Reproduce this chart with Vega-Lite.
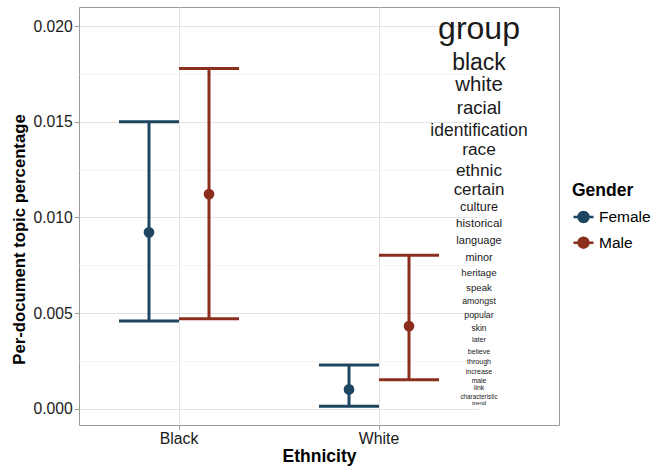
{
  "$schema": "https://vega.github.io/schema/vega-lite/v6.json",
  "width": 480,
  "height": 418,
  "autosize": "none",
  "padding": {"left": 79, "top": 7, "right": 105, "bottom": 41},
  "config": {
    "view": {"stroke": "#9a9a9a", "strokeWidth": 1},
    "font": "Liberation Sans"
  },
  "datasets": {
    "summary": [
      {"ethnicity": "Black", "gender": "Female", "mean": 0.00922, "lower": 0.00458, "upper": 0.0150},
      {"ethnicity": "Black", "gender": "Male", "mean": 0.01122, "lower": 0.00470, "upper": 0.01779},
      {"ethnicity": "White", "gender": "Female", "mean": 0.00101, "lower": 0.000125, "upper": 0.00228},
      {"ethnicity": "White", "gender": "Male", "mean": 0.00432, "lower": 0.00152, "upper": 0.00802}
    ],
    "words": [
      {"word": "group", "y": 0.01934, "weight": 32},
      {"word": "black", "y": 0.01770, "weight": 23},
      {"word": "white", "y": 0.01659, "weight": 20.4},
      {"word": "racial", "y": 0.01540, "weight": 18.6},
      {"word": "identification", "y": 0.01424, "weight": 17.5},
      {"word": "race", "y": 0.01327, "weight": 17.3},
      {"word": "ethnic", "y": 0.01215, "weight": 17.3},
      {"word": "certain", "y": 0.01118, "weight": 16.9},
      {"word": "culture", "y": 0.01033, "weight": 12.6},
      {"word": "historical", "y": 0.00948, "weight": 11.7},
      {"word": "language", "y": 0.00859, "weight": 11.0},
      {"word": "minor", "y": 0.00772, "weight": 10.9},
      {"word": "heritage", "y": 0.00694, "weight": 9.8},
      {"word": "speak", "y": 0.00617, "weight": 9.7},
      {"word": "amongst", "y": 0.00546, "weight": 8.8},
      {"word": "popular", "y": 0.00472, "weight": 8.8},
      {"word": "skin", "y": 0.00408, "weight": 8.4},
      {"word": "later", "y": 0.00347, "weight": 7.2},
      {"word": "believe", "y": 0.00287, "weight": 7.1},
      {"word": "through", "y": 0.00235, "weight": 7.1},
      {"word": "increase", "y": 0.00181, "weight": 7.0},
      {"word": "male", "y": 0.00136, "weight": 6.8},
      {"word": "link", "y": 0.00100, "weight": 6.8},
      {"word": "characteristic", "y": 0.00049, "weight": 6.3},
      {"word": "trend", "y": 0.00019, "weight": 6.2}
    ]
  },
  "layer": [
    {
      "data": {"name": "summary"},
      "encoding": {
        "x": {
          "field": "ethnicity",
          "type": "nominal",
          "scale": {"domain": ["Black", "White"], "range": [0, 400], "paddingInner": 0, "paddingOuter": 0},
          "axis": {
            "title": "Ethnicity",
            "domain": false,
            "grid": true,
            "gridColor": "#e3e3e3",
            "bandPosition": 0.5,
            "tickSize": 4.5,
            "tickColor": "#9a9a9a",
            "labelPadding": 2,
            "labelAngle": 0,
            "labelFontSize": 15.8,
            "labelColor": "#1a1a1a",
            "labelFont": "Liberation Sans",
            "titleFont": "Liberation Sans",
            "titleFontSize": 17.5,
            "titleFontWeight": "bold",
            "titleColor": "#000000",
            "titleX": 240,
            "titleY": 36.7,
            "titleAlign": "center",
            "titleBaseline": "alphabetic"
          }
        },
        "xOffset": {
          "field": "gender",
          "type": "nominal",
          "scale": {"domain": ["Female", "Male"], "paddingOuter": 0.6667, "paddingInner": 0}
        },
        "color": {
          "field": "gender",
          "type": "nominal",
          "scale": {"domain": ["Female", "Male"], "range": ["#1e4561", "#8b2e1d"]},
          "legend": {
            "title": "Gender",
            "orient": "none",
            "legendX": 493,
            "legendY": 175,
            "padding": 0,
            "symbolType": "M-1,0H1M0.5,0A0.5,0.5,0,1,1,-0.5,0A0.5,0.5,0,1,1,0.5,0Z",
            "symbolSize": 400,
            "symbolStrokeWidth": 2.5,
            "symbolOpacity": 1,
            "labelOffset": 4,
            "rowPadding": 3.7,
            "titlePadding": 6,
            "titleFont": "Liberation Sans",
            "titleFontSize": 17.5,
            "titleFontWeight": "bold",
            "titleColor": "#000000",
            "labelFont": "Liberation Sans",
            "labelFontSize": 15.5,
            "labelColor": "#000000",
            "encode": {
              "symbols": {
                "update": {
                  "fill": {"scale": "color", "field": "value"},
                  "stroke": {"scale": "color", "field": "value"},
                  "strokeWidth": {"value": 2.5},
                  "opacity": {"value": 1}
                }
              }
            }
          }
        },
        "y": {
          "type": "quantitative",
          "scale": {"domain": [-0.00085, 0.021], "nice": false, "zero": false},
          "axis": {
            "title": "Per-document topic percentage",
            "values": [0, 0.0025, 0.005, 0.0075, 0.01, 0.0125, 0.015, 0.0175, 0.02],
            "labelExpr": "round(datum.value*400)%2==1 ? '' : format(datum.value, '.3f')",
            "gridColor": {"condition": {"test": "round(datum.value*400)%2==1", "value": "#f3f3f3"}, "value": "#e3e3e3"},
            "tickColor": {"condition": {"test": "round(datum.value*400)%2==1", "value": "transparent"}, "value": "#9a9a9a"},
            "domain": false,
            "tickSize": 4.5,
            "labelPadding": 2.3,
            "labelFontSize": 15.7,
            "labelColor": "#1a1a1a",
            "labelFont": "Liberation Sans",
            "titleFont": "Liberation Sans",
            "titleFontSize": 16.7,
            "titleFontWeight": "bold",
            "titleColor": "#000000",
            "titleAngle": -90,
            "titleX": -55,
            "titleY": 232,
            "titleAlign": "center",
            "titleBaseline": "alphabetic"
          }
        }
      },
      "layer": [
        {
          "mark": {"type": "rule", "strokeWidth": 3, "opacity": 1},
          "encoding": {"y": {"field": "lower"}, "y2": {"field": "upper"}}
        },
        {
          "mark": {"type": "tick", "size": 60, "thickness": 3, "opacity": 1},
          "encoding": {"y": {"field": "lower"}}
        },
        {
          "mark": {"type": "tick", "size": 60, "thickness": 3, "opacity": 1},
          "encoding": {"y": {"field": "upper"}}
        },
        {
          "mark": {"type": "point", "filled": true, "size": 115, "opacity": 1, "shape": "circle"},
          "encoding": {"y": {"field": "mean"}}
        }
      ]
    },
    {
      "data": {"name": "words"},
      "mark": {"type": "text", "align": "center", "baseline": "alphabetic", "font": "Liberation Sans", "color": "#1a1a1a"},
      "encoding": {
        "x": {"datum": "White", "type": "nominal", "bandPosition": 1},
        "y": {"field": "y", "type": "quantitative"},
        "text": {"field": "word"},
        "size": {"field": "weight", "type": "quantitative", "scale": {"type": "linear", "domain": [0, 32], "range": [0, 32]}, "legend": null}
      }
    }
  ]
}
